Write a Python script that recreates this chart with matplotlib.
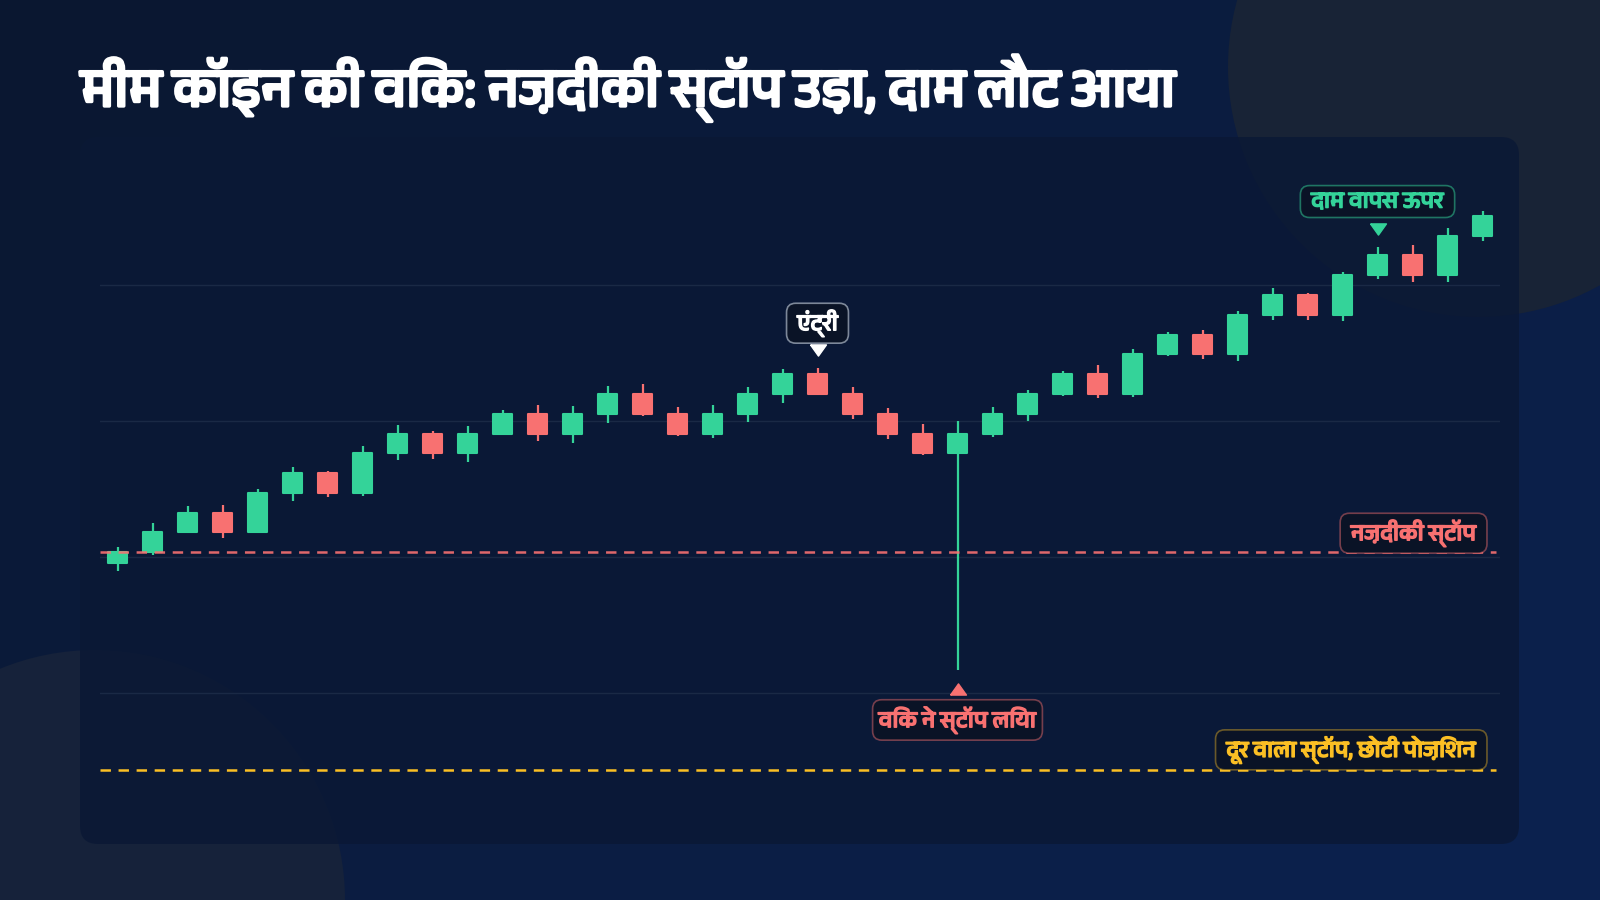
import numpy as np
import matplotlib
matplotlib.use("Agg")
import matplotlib.pyplot as plt
import matplotlib.font_manager as fm
import matplotlib.patheffects as pe
from matplotlib.patches import Circle, FancyBboxPatch
from matplotlib.transforms import offset_copy
from matplotlib.colors import to_rgba
from fontTools.ttLib import TTFont


def find_deva_family():
    # look for any installed font that has Devanagari glyphs
    found = []
    for f in fm.fontManager.ttflist:
        try:
            cmap = TTFont(f.fname, fontNumber=0, lazy=True).getBestCmap()
        except Exception:
            continue
        if cmap and 0x0915 in cmap:
            found.append(f.name)
    for name in found:
        if "Devanagari" in name:
            return name
    if found:
        return found[0]
    return "Noto Sans"


DEVA = find_deva_family()
FONTS = [DEVA, "Noto Sans", "DejaVu Sans"]
plt.rcParams["font.family"] = FONTS
plt.rcParams["lines.scale_dashes"] = False

# candle data (arbitrary price units)
opens = [19.44, 20, 21, 22, 21, 23, 24, 23, 25, 26, 25, 26, 27, 26, 27, 28, 27, 26, 27, 28,
         29, 28, 27, 26, 25, 26, 27, 28, 29, 28, 30, 31, 30, 32, 33, 32, 34, 35, 34, 36]
closes = [20, 21, 22, 21, 23, 24, 23, 25, 26, 25, 26, 27, 26, 27, 28, 27, 26, 27, 28, 29,
          28, 27, 26, 25, 26, 27, 28, 29, 28, 30, 31, 30, 32, 33, 32, 34, 35, 34, 36, 37]
highs = [20.28, 21.5, 22.34, 22.39, 23.19, 24.33, 24.11, 25.37, 26.44, 26.13, 26.39, 27.2,
         27.45, 27.4, 28.4, 28.5, 27.33, 27.43, 28.37, 29.25, 29.3, 28.34, 27.28, 26.5,
         26.62, 27.33, 28.2, 29.17, 29.45, 30.28, 31.15, 31.24, 32.2, 33.36, 33.11, 34.17,
         35.45, 35.52, 36.41, 37.27]
lows = [19.07, 19.86, 20.96, 20.74, 20.96, 22.59, 22.78, 22.86, 24.67, 24.7, 24.58, 25.9,
        25.63, 25.53, 26.55, 26.9, 25.88, 25.79, 26.6, 27.56, 27.94, 26.74, 25.71, 24.92,
        14.05, 25.83, 26.65, 27.9, 27.79, 27.87, 29.92, 29.76, 29.67, 31.76, 31.76, 31.69,
        33.83, 33.67, 33.67, 35.75]

near_stop = 20.0
far_stop = 9.0
entry_idx = 20
wick_idx = 24
recover_idx = 36

title = "मीम कॉइन की विक: नज़दीकी स्टॉप उड़ा, दाम लौट आया"
entry_label = "एंट्री"
wick_label = "विक ने स्टॉप लिया"
recover_label = "दाम वापस ऊपर"
near_label = "नज़दीकी स्टॉप"
far_label = "दूर वाला स्टॉप, छोटी पोज़िशन"

GREEN = "#34d399"
RED = "#f87171"
AMBER = "#fbbf24"

fig = plt.figure(figsize=(16, 9), dpi=100)

# background: gradient, soft circles and the chart panel
bg = fig.add_axes([0, 0, 1, 1])
bg.set_xlim(0, 1600)
bg.set_ylim(900, 0)
bg.axis("off")
gx, gy = np.meshgrid(np.linspace(0, 1, 160), np.linspace(0, 1, 90))
t = (gx * 0.6 + gy * 0.4)[..., None]
c0 = np.array(to_rgba("#0a1730")[:3])
c1 = np.array(to_rgba("#0c2250")[:3])
grad = c0 * (1 - t) + c1 * t
bg.imshow(grad, extent=[0, 1600, 900, 0], aspect="auto", zorder=0)
bg.add_patch(Circle((1478, 67), 250, fc="#182336", ec="none", zorder=1))
bg.add_patch(Circle((95, 900), 250, fc="#16223a", ec="none", zorder=1))
bg.add_patch(FancyBboxPatch((80, 137), 1439, 707, boxstyle="round,pad=0,rounding_size=18",
                            fc="#0a1835", ec="none", alpha=0.82, zorder=2))

# the font has no bold face, so thicken strokes a little
fig.text(81 / 1600, 1 - 106 / 900, title, fontsize=39, color="white",
         va="baseline", ha="left",
         path_effects=[pe.withStroke(linewidth=2.4, foreground="white")])

ax = fig.add_axes([100 / 1600, 71 / 900, 1400 / 1600, 680 / 900])
ax.patch.set_alpha(0)
x = np.arange(len(opens))
opens = np.array(opens)
closes = np.array(closes)
colors = [GREEN if c >= o else RED for o, c in zip(opens, closes)]

ax.vlines(x, lows, highs, colors=colors, lw=1.6, zorder=3)
ax.bar(x, closes - opens, bottom=opens, width=0.57, color=colors, edgecolor=colors,
       linewidth=1.5, joinstyle="round", zorder=4)

ax.set_xlim(-0.5, len(opens) - 0.5)
ymin, ymax = 6.01, 40.38
ax.set_ylim(ymin, ymax)
ax.set_yticks(np.linspace(ymin, ymax, 6)[1:-1])
ax.grid(axis="y", color="#1a2945", lw=1)
ax.tick_params(left=False, bottom=False, labelleft=False, labelbottom=False)
for s in ax.spines.values():
    s.set_visible(False)

ax.axhline(near_stop, xmax=0.997, color=RED, lw=1.8, dashes=(7.5, 5.5), alpha=0.9, zorder=5)
ax.axhline(far_stop, xmax=0.997, color=AMBER, lw=1.8, dashes=(7.5, 5.5), zorder=5)

tri_down = [(-1, 0.7), (1, 0.7), (0, -0.7), (-1, 0.7)]
tri_up = [(-1, -0.7), (1, -0.7), (0, 0.7), (-1, -0.7)]


def box(color, edge_alpha):
    return dict(boxstyle="round,pad=0.26,rounding_size=0.4", fc="#0a1326",
                ec=to_rgba(color, edge_alpha), lw=1.2)


def label(text, xy, offset, color, edge, edge_alpha, ha="center", xycoords="data"):
    ax.annotate(text, xy, xycoords=xycoords, xytext=offset, textcoords="offset pixels",
                ha=ha, va="center", color=color, fontsize=16.5,
                bbox=box(edge, edge_alpha), zorder=7,
                path_effects=[pe.withStroke(linewidth=1.1, foreground=color)])


# entry
ax.plot(entry_idx, highs[entry_idx], marker=tri_down, ms=11.5, color="white", ls="none",
        transform=offset_copy(ax.transData, fig=fig, y=18, units="dots"), zorder=6)
label(" " + entry_label + " ", (entry_idx, highs[entry_idx]), (0, 45), "white", "#cbd5e1", 0.6)

# price back up
ax.plot(recover_idx, highs[recover_idx], marker=tri_down, ms=11.5, color=GREEN, ls="none",
        transform=offset_copy(ax.transData, fig=fig, y=18, units="dots"), zorder=6)
label(" " + recover_label + " ", (recover_idx, highs[recover_idx]), (0, 45), GREEN, GREEN, 0.5)

# wick took the stop
ax.plot(wick_idx, lows[wick_idx], marker=tri_up, ms=11.5, color=RED, ls="none",
        transform=offset_copy(ax.transData, fig=fig, y=-19, units="dots"), zorder=6)
label(wick_label, (wick_idx, lows[wick_idx]), (0, -50), RED, RED, 0.45)

# stop labels on the right
label(" " + near_label + " ", (1, near_stop), (-19, 19), RED, RED, 0.45, ha="right",
      xycoords=("axes fraction", "data"))
label(" " + far_label + " ", (1, far_stop), (-19, 20), AMBER, AMBER, 0.4, ha="right",
      xycoords=("axes fraction", "data"))

fig.savefig("out.png", dpi=100, facecolor="#0b1730")
